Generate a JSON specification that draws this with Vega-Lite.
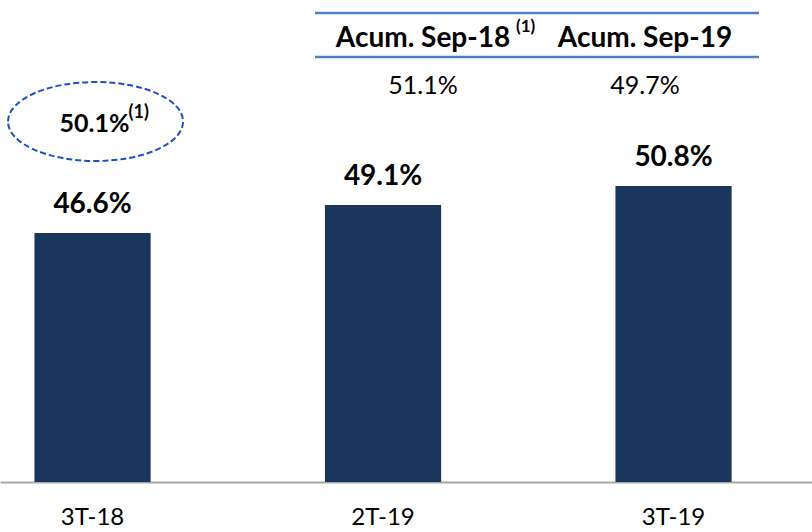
{
  "$schema": "https://vega.github.io/schema/vega-lite/v6.json",
  "width": 812,
  "height": 482,
  "autosize": {"type": "none"},
  "padding": {"left": 0, "top": 0, "right": 0, "bottom": 50},
  "config": {"view": {"stroke": null}, "font": "Lato", "text": {"color": "#000000"}},
  "datasets": {
    "bars": [
      {"cat": "3T-18", "value": 0.466},
      {"cat": "2T-19", "value": 0.491},
      {"cat": "3T-19", "value": 0.508}
    ],
    "note": [
      {"cat": "3T-18", "value": 0.466, "acum": 0.501, "sup": "(1)"}
    ],
    "table": [
      {"col": "Acum. Sep-18", "sup": "(1)", "value": 0.511},
      {"col": "Acum. Sep-19", "sup": "", "value": 0.497}
    ],
    "lines": [
      {"row": "header", "from": "Acum. Sep-18", "to": "Acum. Sep-19"},
      {"row": "value", "from": "Acum. Sep-18", "to": "Acum. Sep-19"}
    ]
  },
  "layer": [
    {
      "encoding": {
        "x": {
          "field": "cat",
          "type": "nominal",
          "sort": null,
          "scale": {"paddingInner": 0.6, "paddingOuter": 0.1976, "align": 0.3},
          "axis": {
            "title": null,
            "labelFontSize": 24,
            "labelColor": "#000000",
            "labelPadding": 23,
            "labelAngle": 0,
            "ticks": false,
            "domainColor": "#a6a6a6",
            "domainWidth": 2
          }
        },
        "y": {
          "field": "value",
          "type": "quantitative",
          "scale": {"domain": [0.2435, 0.6742], "zero": false, "nice": false},
          "axis": null
        }
      },
      "layer": [
        {
          "data": {"name": "bars"},
          "mark": {"type": "bar", "color": "#1b365d", "clip": true}
        },
        {
          "data": {"name": "bars"},
          "mark": {"type": "text", "dy": -20, "baseline": "alphabetic", "fontSize": 28, "fontWeight": "bold"},
          "encoding": {"text": {"field": "value", "type": "quantitative", "format": ".1%"}}
        },
        {
          "data": {"name": "note"},
          "mark": {
            "type": "point",
            "shape": "M-1,0C-1,-0.2493,-0.5523,-0.4514,0,-0.4514C0.5523,-0.4514,1,-0.2493,1,0C1,0.2493,0.5523,0.4514,0,0.4514C-0.5523,0.4514,-1,0.2493,-1,0Z",
            "size": 30625,
            "filled": false,
            "stroke": "#1f4fc8",
            "strokeWidth": 2,
            "strokeDash": [6, 3],
            "opacity": 1,
            "xOffset": 3,
            "yOffset": -111.5
          }
        },
        {
          "data": {"name": "note"},
          "mark": {"type": "text", "dx": 2, "dy": -101, "baseline": "alphabetic", "fontSize": 25, "fontWeight": "bold"},
          "encoding": {"text": {"field": "acum", "type": "quantitative", "format": ".1%"}}
        },
        {
          "data": {"name": "note"},
          "mark": {"type": "text", "align": "left", "dx": 36, "dy": -115, "baseline": "alphabetic", "fontSize": 18, "fontWeight": "bold"},
          "encoding": {"text": {"field": "sup", "type": "nominal"}}
        }
      ]
    },
    {
      "encoding": {
        "x": {
          "field": "col",
          "type": "nominal",
          "sort": null,
          "scale": {"domain": ["Acum. Sep-18", "Acum. Sep-19"], "range": [315, 759], "paddingInner": 0, "paddingOuter": 0},
          "axis": null
        }
      },
      "layer": [
        {
          "data": {"name": "lines"},
          "mark": {"type": "rule", "color": "#4f81bd", "strokeWidth": 2.5},
          "encoding": {
            "x": {"field": "from", "type": "nominal", "bandPosition": 0, "axis": null},
            "x2": {"field": "to", "bandPosition": 1},
            "y": {
              "field": "row",
              "type": "nominal",
              "bandPosition": 0,
              "scale": {"type": "band", "domain": ["header", "value"], "range": [13, 101], "paddingInner": 0, "paddingOuter": 0},
              "axis": null
            }
          }
        },
        {
          "data": {"name": "table"},
          "mark": {"type": "text", "dx": -3, "dy": 12, "baseline": "alphabetic", "fontSize": 28, "fontWeight": "bold"},
          "encoding": {
            "y": {"datum": "header", "type": "nominal", "axis": null},
            "text": {"field": "col", "type": "nominal"}
          }
        },
        {
          "data": {"name": "table"},
          "mark": {"type": "text", "align": "left", "dx": 90, "dy": -3, "baseline": "alphabetic", "fontSize": 17, "fontWeight": "bold"},
          "encoding": {
            "y": {"datum": "header", "type": "nominal", "axis": null},
            "text": {"field": "sup", "type": "nominal"}
          }
        },
        {
          "data": {"name": "table"},
          "mark": {"type": "text", "dx": -3, "dy": 15, "baseline": "alphabetic", "fontSize": 25},
          "encoding": {
            "y": {"datum": "value", "type": "nominal", "axis": null},
            "text": {"field": "value", "type": "quantitative", "format": ".1%"}
          }
        }
      ]
    }
  ],
  "resolve": {"scale": {"x": "independent", "y": "independent"}}
}
